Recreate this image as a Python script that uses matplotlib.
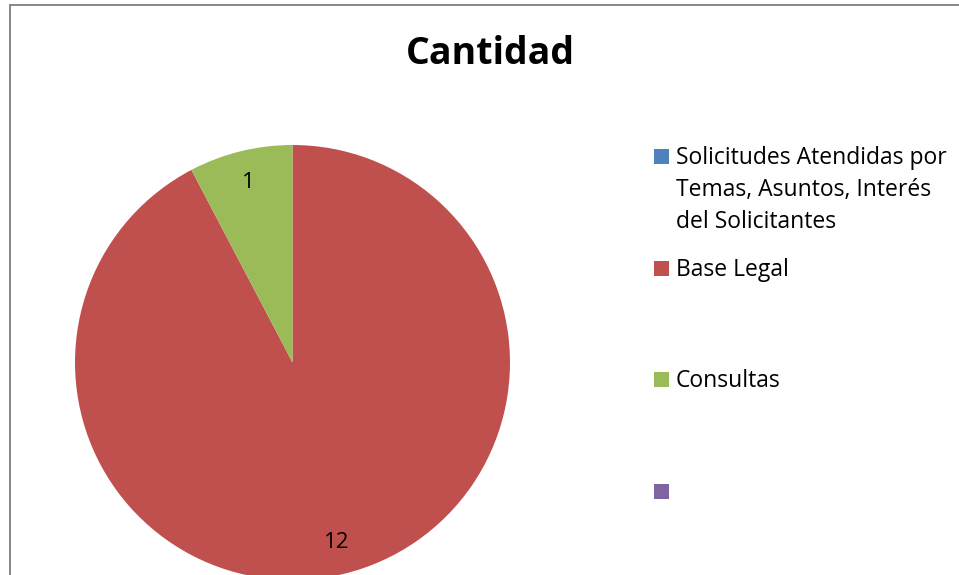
import matplotlib
matplotlib.use('Agg')
import matplotlib.pyplot as plt
from matplotlib.patches import Rectangle

# datos del grafico
categorias = ['Solicitudes Atendidas por\nTemas, Asuntos, Interés\ndel Solicitantes',
              'Base Legal', 'Consultas', '']
cantidad = [0, 12, 1, 0]
colores = ['#4F81BD', '#C0504D', '#9BBB59', '#8064A2']
titulo = 'Cantidad'

plt.rcParams['font.family'] = ['Open Sans', 'DejaVu Sans']

W, H = 959, 575
fig = plt.figure(figsize=(W / 100, H / 100), dpi=100)
ax = fig.add_axes([0, 0, 1, 1])

# pie en coordenadas de pixel (y hacia arriba)
cx, cy, r = 292.5, H - 362.5, 217.5


def etiqueta(pct):
    val = round(pct * sum(cantidad) / 100)
    return str(val) if val > 0 else ''


wedges, texts, autotexts = ax.pie(cantidad, colors=colores, startangle=90,
                                  counterclock=False, center=(cx, cy), radius=r,
                                  autopct=etiqueta, pctdistance=0.85,
                                  wedgeprops=dict(linewidth=0))
for t in autotexts:
    t.set_fontsize(16)
    t.set_color('black')

ax.set_xlim(0, W)
ax.set_ylim(0, H)
ax.set_aspect('auto')
ax.axis('off')

# marco del grafico
ax.add_patch(Rectangle((9.5, -20), W + 50, H - 5 + 20, fill=False,
                       edgecolor='#868686', linewidth=1.4, clip_on=False))

ax.text(490, H - 64, titulo, fontsize=27, fontweight='bold',
        ha='center', va='baseline')

# leyenda manual (estilo Excel)
for i, (lab, col) in enumerate(zip(categorias, colores)):
    yc = 156.5 + 111.7 * i
    ax.add_patch(Rectangle((654, H - yc - 7.5), 15, 15, facecolor=col,
                           edgecolor='none'))
    for j, linea in enumerate(lab.split('\n')):
        ax.text(676, H - (yc + 7.5 + 32 * j), linea, fontsize=16.5,
                ha='left', va='baseline')

fig.savefig('out.png', dpi=100)
